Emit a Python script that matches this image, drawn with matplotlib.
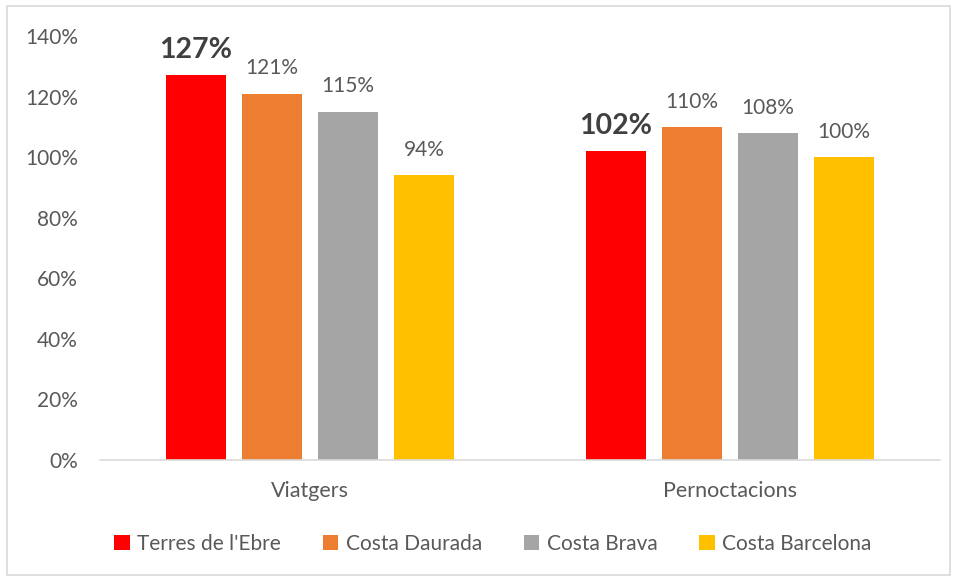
import numpy as np
import matplotlib.pyplot as plt
from matplotlib.patches import Rectangle

plt.rcParams['font.family'] = ['Lato', 'DejaVu Sans']

# ===================== 数据 =====================
categories = ['Viatgers', 'Pernoctacions']
series_names = ["Terres de l'Ebre", 'Costa Daurada', 'Costa Brava', 'Costa Barcelona']
terres_ebre = [127, 102]
costa_daurada = [121, 110]
costa_brava = [115, 108]
costa_barcelona = [94, 100]
yticks = [0, 20, 40, 60, 80, 100, 120, 140]

colors = ['#FF0000', '#ED7D31', '#A5A5A5', '#FFC000']
values = [terres_ebre, costa_daurada, costa_brava, costa_barcelona]

# ===================== 绘图 =====================
fig = plt.figure(figsize=(9.57, 5.81), dpi=100)
ax = fig.add_axes([0.1045, 0.2083, 0.8775, 0.7297])

x = np.arange(len(categories))
bar_w = 0.143
step = 0.181
offsets = (np.arange(4) - 1.5) * step

for i, (name, vals) in enumerate(zip(series_names, values)):
    bars = ax.bar(x + offsets[i], vals, bar_w, color=colors[i], label=name)
    for b, v in zip(bars, vals):
        if i == 0:
            ax.annotate(f'{v}%', (b.get_x() + b.get_width() / 2, v),
                        xytext=(0, 9), textcoords='offset points',
                        ha='center', va='bottom', fontsize=20.5,
                        fontweight='bold', color='#404040')
        else:
            ax.annotate(f'{v}%', (b.get_x() + b.get_width() / 2, v),
                        xytext=(0, 11), textcoords='offset points',
                        ha='center', va='bottom', fontsize=15,
                        color='#595959')

ax.set_xlim(-0.5, 1.5)
ax.set_ylim(0, 140)
ax.set_yticks(yticks)
ax.set_yticklabels([f'{t}%' for t in yticks])
ax.set_xticks(x)
ax.set_xticklabels(categories)
ax.tick_params(axis='y', length=0, pad=16, labelsize=15, labelcolor='#595959')
ax.tick_params(axis='x', length=0, pad=15, labelsize=15.5, labelcolor='#595959')

for s in ['top', 'right', 'left']:
    ax.spines[s].set_visible(False)
ax.spines['bottom'].set_color('#D9D9D9')
ax.spines['bottom'].set_linewidth(1.2)

# 图例
fig.legend(loc='center', bbox_to_anchor=(0.515, 0.064), ncol=4, frameon=False,
           fontsize=15, handlelength=0.75, handleheight=0.75,
           handletextpad=0.35, columnspacing=2.0, labelcolor='#595959')

# 外框
fig.patches.append(Rectangle((0.007, 0.01), 0.986, 0.98, transform=fig.transFigure,
                             fill=False, edgecolor='#D9D9D9', linewidth=1.2))

fig.savefig('out.png', dpi=100)
